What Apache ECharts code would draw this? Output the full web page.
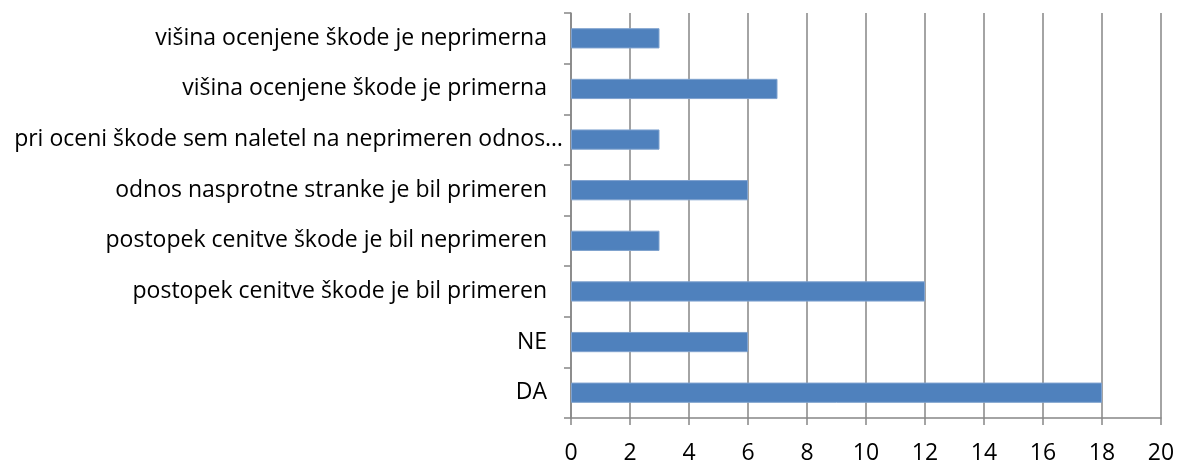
<!DOCTYPE html>
<html>
<head>
<meta charset="utf-8">
<script src="https://cdn.jsdelivr.net/npm/echarts@6/dist/echarts.min.js"></script>
<style>
    html, body { margin: 0; padding: 0; background: #fff; }
    #chart { width: 1178px; height: 465px; }
</style>
</head>
<body>
<div id="chart"></div>
<script>
    // kategorije od spodaj navzgor
    var categories = [
        'DA',
        'NE',
        'postopek cenitve škode je bil primeren',
        'postopek cenitve škode je bil neprimeren',
        'odnos nasprotne stranke je bil primeren',
        'pri oceni škode sem naletel na neprimeren odnos…',
        'višina ocenjene škode je primerna',
        'višina ocenjene škode je neprimerna'
    ];
    var values = [18, 6, 12, 3, 6, 3, 7, 3];
    var xTicks = [0, 2, 4, 6, 8, 10, 12, 14, 16, 18, 20];

    var font = 'Open Sans';
    var chart = echarts.init(document.getElementById('chart'));

    var option = {
        animation: false,
        grid: {
            left: 571,
            right: 17,
            top: 13,
            bottom: 47
        },
        xAxis: {
            type: 'value',
            min: xTicks[0],
            max: xTicks[xTicks.length - 1],
            interval: 2,
            axisLine: { show: true, lineStyle: { color: '#868686', width: 1.5 } },
            axisTick: { show: true, length: 7, lineStyle: { color: '#868686', width: 1.5 } },
            splitLine: { show: true, lineStyle: { color: '#868686', width: 1.5 } },
            axisLabel: {
                color: '#000',
                fontFamily: font,
                fontSize: 23,
                margin: 24
            }
        },
        yAxis: {
            type: 'category',
            data: categories,
            axisLine: { show: true, lineStyle: { color: '#868686', width: 1.5 } },
            axisTick: { show: true, length: 7, lineStyle: { color: '#868686', width: 1.5 } },
            axisLabel: {
                color: '#000',
                fontFamily: font,
                fontSize: 23,
                margin: 7,
                // dolga oznaka sega bliže osi
                formatter: function (v) {
                    return v.length > 45 ? '{l|' + v + '}' : '{n|' + v + '}';
                },
                rich: {
                    n: { fontFamily: font, fontSize: 23, color: '#000', padding: [0, 17, 0, 0] },
                    l: { fontFamily: font, fontSize: 23, color: '#000', padding: [0, 1, 0, 0] }
                }
            }
        },
        series: [{
            type: 'bar',
            data: values,
            barCategoryGap: '60%',
            itemStyle: {
                color: '#4F81BD',
                borderColor: '#7FA2CF',
                borderWidth: 1
            }
        }]
    };

    chart.setOption(option);
</script>
</body>
</html>
